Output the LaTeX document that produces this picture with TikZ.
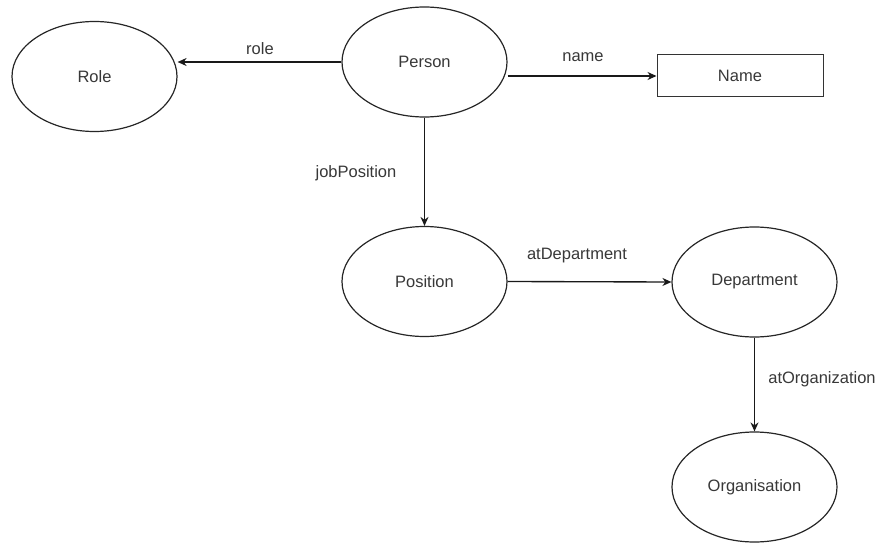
\documentclass[tikz,border=0pt]{standalone}
\usepackage{fontspec}
\setmainfont{Liberation Sans}
\usetikzlibrary{shapes.geometric,arrows.meta}

\begin{document}
\begin{tikzpicture}[x=1pt,y=-1pt,
  every node/.style={font=\fontsize{16.5}{20}\selectfont, text=black!78},
  concept/.style={ellipse, draw=black!85, line width=1.2pt, fill=white,
    minimum width=165pt, minimum height=110pt, inner sep=0pt},
  literal/.style={rectangle, draw=black!80, line width=1pt, fill=white,
    minimum width=166pt, minimum height=42pt, inner sep=0pt},
  rel/.style={draw=black!90, line width=1.35pt,
    -{Stealth[length=9pt,width=8pt]}},
  edgelabel/.style={inner sep=0pt}
]
\useasboundingbox[fill=white] (0,0) rectangle (879,543);

% classes and literal
\node[concept] (Role) at (94.5,76.5) {Role};
\node[concept] (Person) at (424.5,62) {Person};
\node[literal] (Name) at (740,76) {Name};
\node[concept] (Position) at (424.5,281.5) {Position};
\node[concept] (Department) at (754.5,282) {Department};
\node[concept] (Organisation) at (754.5,487) {Organisation};

% properties
\draw[rel] (Person.west) -- (Person.west -| Role.east);
\draw[rel] (Person.east |- Name.west) -- (Name.west);
\draw[rel] (Person.south) -- (Position.north);
\draw[rel] (Position.east) -- (Department.west);
\draw[rel] (Department.south) -- (Organisation.north);

% property labels
\node[edgelabel] (lrole) at (260,49) {role};
\node[edgelabel] (lname) at (583,57) {name};
\node[edgelabel] (ljob) at (356,173) {jobPosition};
\node[edgelabel] (ldept) at (577,256) {atDepartment};
\node[edgelabel] (lorg) at (822,379) {atOrganization};
\end{tikzpicture}
\end{document}
